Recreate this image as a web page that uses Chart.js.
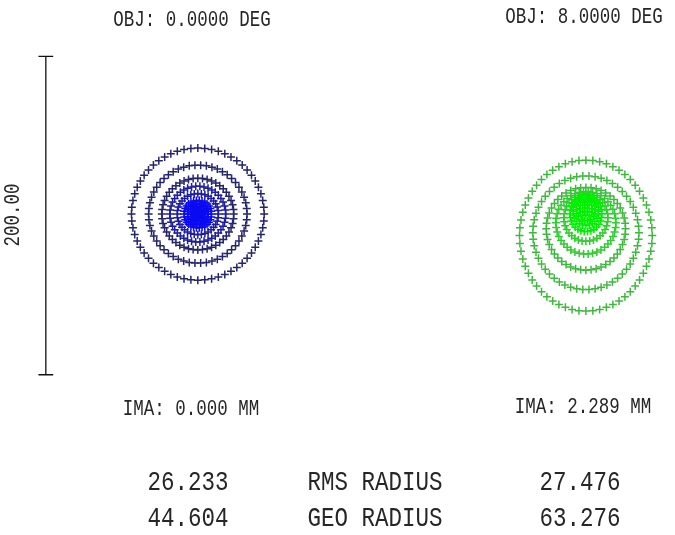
<!DOCTYPE html>
<html>
<head>
<meta charset="utf-8">
<script src="https://cdn.jsdelivr.net/npm/chart.js@4"></script>
<style>
  html, body { margin: 0; padding: 0; background: #fff; }
  canvas { display: block; }
</style>
</head>
<body>
<canvas id="chart" width="675" height="535"></canvas>
<script>
// spot diagram, all spot values in microns
const fieldLabels = ['OBJ: 0.0000 DEG', 'OBJ: 8.0000 DEG'];
const imageLabels = ['IMA: 0.000 MM', 'IMA: 2.289 MM'];
const statLabels = ['RMS RADIUS', 'GEO RADIUS'];
const rmsRadius = ['26.233', '27.476'];
const geoRadius = ['44.604', '63.276'];
const scaleBar = 200;
const scaleBarLabel = '200.00';

// hexapolar pupil rings, ring k traces 6k rays
const pupilRings = [1, 2, 3, 4, 5, 6, 7, 8, 9, 10];

// field 1 (on axis): round rings
const f1CenterY = [0, 0, 0, 0, 0, 0, 0, 0, 0, 0];
const f1RadiusX = [1.2, 2.7, 4.5, 6.5, 8.6, 12.9, 17.5, 22.5, 30.8, 41.5];
const f1RadiusY = [1.2, 2.7, 4.5, 6.5, 8.6, 12.9, 17.5, 22.5, 30.8, 41.5];

// field 2 (8 deg): rings stretched and sliding down
const f2CenterY = [3.7, 3.4, 2.8, 1.8, 0.2, -2.3, -5.5, -9.2, -11.7, -13.5];
const f2RadiusX = [2.0, 4.0, 6.0, 8.0, 10.0, 13.8, 18.8, 24.8, 33.2, 41.5];
const f2RadiusY = [2.3, 4.5, 7.0, 9.0, 11.2, 14.8, 19.6, 26.0, 35.7, 47.4];

// layout
const W = 675, H = 535;
const pxPerUm = 1.625;
const xMin = -195.5 / pxPerUm, xMax = xMin + W / pxPerUm;
const yMax = 213 / pxPerUm, yMin = yMax - H / pxPerUm;
const fieldX = [0, (590 - 195.5) / pxPerUm];
const barX = (41 - 195.5) / pxPerUm;
const barMid = -1.5 / pxPerUm;
const capHalf = 7.5 / pxPerUm;

function ringPoints(k, cx, cy, rx, ry) {
  const pts = [];
  const n = 6 * k;
  for (let j = 0; j < n; j++) {
    const a = 2 * Math.PI * j / n;
    pts.push({ x: cx + rx * Math.cos(a), y: cy + ry * Math.sin(a) });
  }
  return pts;
}

const blueCols = k => k >= 8 ? '#25256c' : k >= 6 ? '#1e1e9e' : '#0a0af2';
const greenCols = k => k >= 8 ? '#40b840' : k >= 6 ? '#30cc30' : '#00f000';

const datasets = [];
const fields = [
  { cy: f1CenterY, rx: f1RadiusX, ry: f1RadiusY, col: blueCols },
  { cy: f2CenterY, rx: f2RadiusX, ry: f2RadiusY, col: greenCols }
];
fields.forEach((f, fi) => {
  // chief ray
  datasets.push({
    data: [{ x: fieldX[fi], y: f.cy[0] }],
    pointStyle: 'cross', pointRadius: 4, pointBorderWidth: 1.5,
    pointBorderColor: f.col(1), showLine: false
  });
  pupilRings.forEach((k, i) => {
    datasets.push({
      data: ringPoints(k, fieldX[fi], f.cy[i], f.rx[i], f.ry[i]),
      pointStyle: 'cross', pointRadius: 4, pointBorderWidth: 1.5,
      pointBorderColor: f.col(k), showLine: false
    });
  });
});

// scale bar
const lineStyle = { showLine: true, pointRadius: 0, borderColor: '#111', borderWidth: 1.3 };
datasets.push(Object.assign({ data: [{ x: barX, y: barMid - scaleBar / 2 }, { x: barX, y: barMid + scaleBar / 2 }] }, lineStyle));
datasets.push(Object.assign({ data: [{ x: barX - capHalf, y: barMid - scaleBar / 2 }, { x: barX + capHalf, y: barMid - scaleBar / 2 }] }, lineStyle));
datasets.push(Object.assign({ data: [{ x: barX - capHalf, y: barMid + scaleBar / 2 }, { x: barX + capHalf, y: barMid + scaleBar / 2 }] }, lineStyle));

const textPlugin = {
  id: 'spotText',
  afterDraw(chart) {
    const ctx = chart.ctx;
    const put = (s, x, y, size, rot) => {
      ctx.save();
      ctx.translate(x, y);
      if (rot) ctx.rotate(rot);
      ctx.scale(1, 1.25);
      ctx.font = size + 'px "Liberation Mono"';
      ctx.fillStyle = '#262626';
      ctx.textAlign = 'center';
      ctx.textBaseline = 'middle';
      ctx.fillText(s, 0, 0);
      ctx.restore();
    };
    put(fieldLabels[0], 192, 20, 17.5);
    put(fieldLabels[1], 584, 17, 17.5);
    put(imageLabels[0], 191, 409, 17.5);
    put(imageLabels[1], 583, 407, 17.5);
    put(rmsRadius[0], 188, 483, 22.5);
    put(statLabels[0], 375, 483, 22.5);
    put(rmsRadius[1], 580, 483, 22.5);
    put(geoRadius[0], 188, 519, 22.5);
    put(statLabels[1], 375, 519, 22.5);
    put(geoRadius[1], 580, 519, 22.5);
    put(scaleBarLabel, 13, 215, 17.5, -Math.PI / 2);
  }
};

new Chart(document.getElementById('chart'), {
  type: 'scatter',
  data: { datasets },
  options: {
    responsive: false,
    animation: false,
    events: [],
    layout: { padding: 0 },
    plugins: { legend: { display: false }, tooltip: { enabled: false } },
    scales: {
      x: { type: 'linear', display: false, min: xMin, max: xMax },
      y: { type: 'linear', display: false, min: yMin, max: yMax }
    }
  },
  plugins: [textPlugin]
});
</script>
</body>
</html>
